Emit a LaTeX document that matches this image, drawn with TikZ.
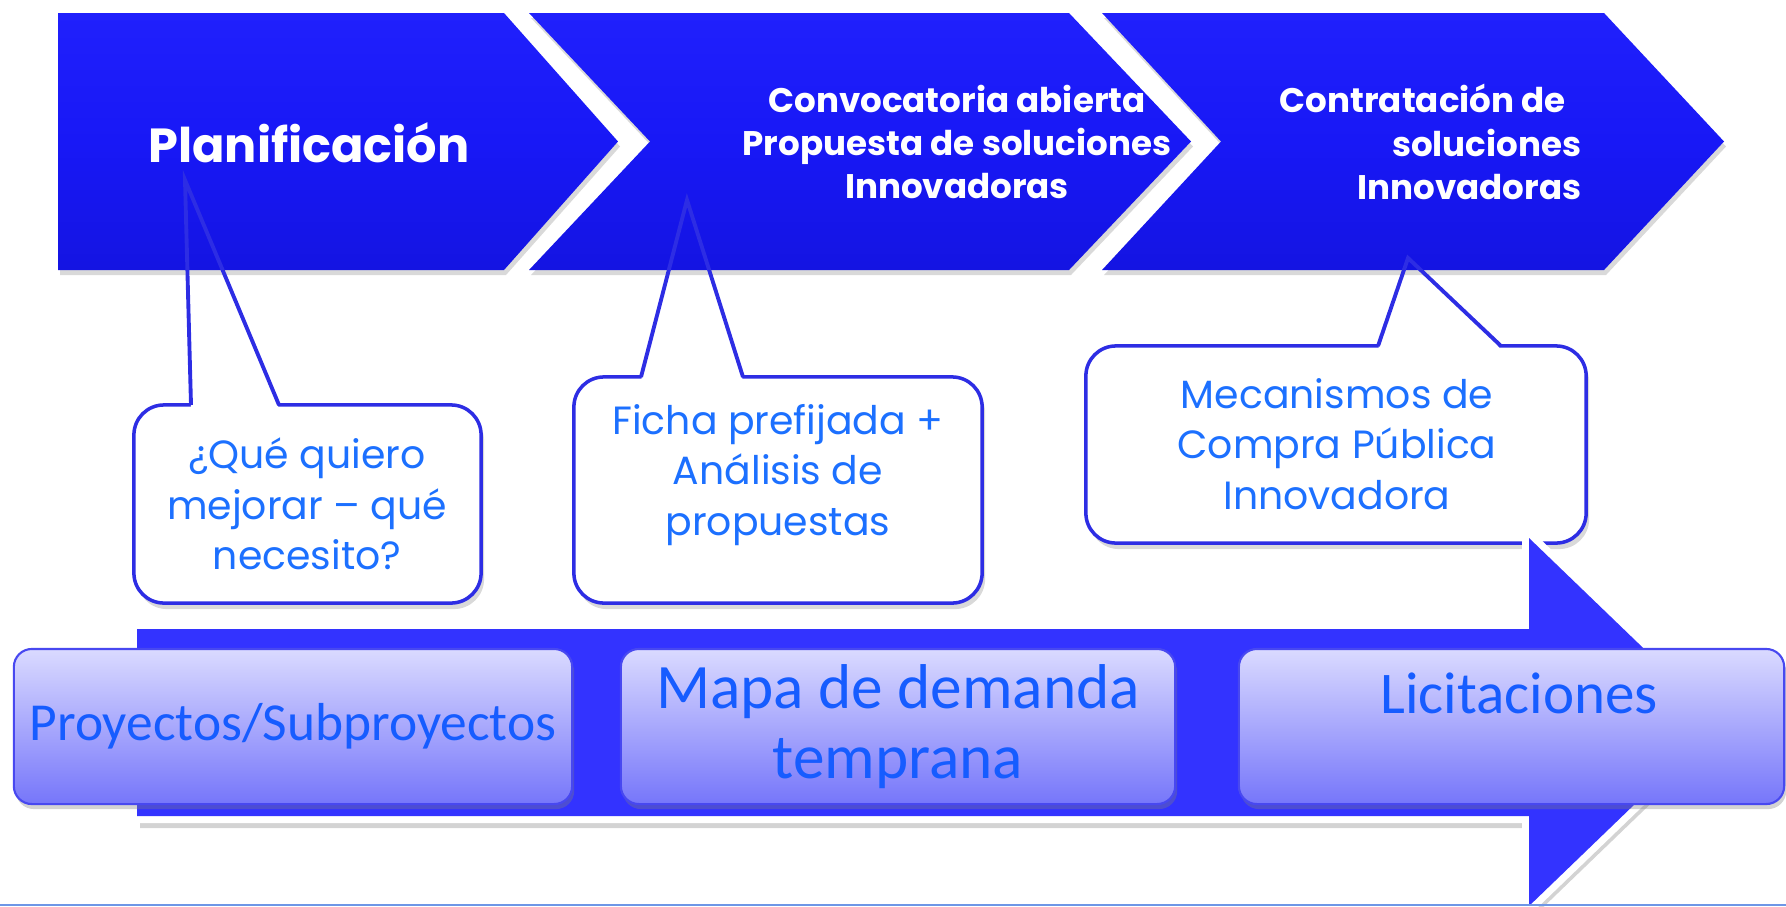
\documentclass[tikz,border=0pt]{standalone}
\usepackage{fontspec}
\setmainfont{Carlito}
\newfontfamily\comicfont{Poppins}
\usetikzlibrary{shadows,calc}

\definecolor{chevblue}{RGB}{24,24,246}
\definecolor{chevtop}{RGB}{32,32,252}
\definecolor{chevbot}{RGB}{20,20,226}
\definecolor{bubline}{RGB}{45,45,228}
\definecolor{bubtext}{RGB}{28,112,255}
\definecolor{flowblue}{RGB}{51,51,255}
\definecolor{boxtop}{RGB}{218,218,255}
\definecolor{boxbot}{RGB}{118,118,250}
\definecolor{boxline}{RGB}{72,72,240}
\definecolor{boxtext}{RGB}{22,92,255}
\definecolor{footline}{RGB}{110,150,230}

\begin{document}
\begin{tikzpicture}
[ x=0.01cm, y=-0.01cm
, chevron/.style={top color=chevtop, bottom color=chevbot, middle color=chevblue,
    drop shadow={opacity=0.3, shadow xshift=0.02cm, shadow yshift=-0.05cm}}
, stage/.style={text=white, font=\comicfont\bfseries\fontsize{9.7}{12.3}\selectfont, align=center, inner sep=0pt}
, flow/.style={drop shadow={opacity=0.35, shadow xshift=0.03cm, shadow yshift=-0.12cm},
    preaction={draw=white, line width=4pt, line join=miter}, fill=flowblue}
, bubble/.style={draw=bubline, line width=1pt, fill=white, rounded corners=0.3cm,
    drop shadow={opacity=0.3, shadow xshift=0.03cm, shadow yshift=-0.06cm}}
, tail/.style={draw=bubline, line width=1.1pt, line join=miter}
, bubtext/.style={text=bubtext, font=\comicfont\fontsize{11.2}{14.3}\selectfont, align=center, inner sep=0pt}
, phase/.style={draw=boxline, line width=0.6pt, rounded corners=0.18cm, top color=boxtop, bottom color=boxbot,
    minimum height=1.55cm, text=boxtext, align=center,
    drop shadow={opacity=0.35, shadow xshift=0.02cm, shadow yshift=-0.05cm}}
]
\useasboundingbox (0,0) rectangle (1786,906);

% Top row: the three stages
\path[chevron] (58,13) -- (504,13) -- (618,141.5) -- (504,270) -- (58,270) -- cycle;
\path[chevron] (529,13) -- (1069,13) -- (1191,141.5) -- (1069,270) -- (529,270) -- (650,141.5) -- cycle;
\path[chevron] (1102,13) -- (1604,13) -- (1724,141.5) -- (1604,270) -- (1102,270) -- (1221,141.5) -- cycle;
\node[stage, font=\comicfont\bfseries\fontsize{13.6}{16}\selectfont, anchor=base] (plan) at (309,162) {Planificación};
\node[stage] (conv) at (957,142) {Convocatoria abierta\\Propuesta de soluciones\\Innovadoras};
\node[stage, align=right, anchor=east] (contr) at (1582,142) {Contratación de\kern0.45em\\soluciones\\Innovadoras};

% Callouts
\coordinate (t1) at (185,180);
\coordinate (t2) at (687,200);
\coordinate (t3) at (1408,258);
\node[bubble, minimum width=3.47cm, minimum height=1.98cm] (q1) at (307.5,504) {};
\node[bubble, minimum width=4.08cm, minimum height=2.26cm] (q2) at (778,490) {};
\node[bubble, minimum width=5.00cm, minimum height=1.97cm] (q3) at (1336,444.5) {};
\coordinate (q1l) at (191,405); \coordinate (q1r) at (279,405);
\coordinate (q2l) at (641,377); \coordinate (q2r) at (743,377);
\coordinate (q3l) at (1378,346); \coordinate (q3r) at (1501,346);
\foreach \q/\t in {q1/t1, q2/t2, q3/t3} {
  \fill[white] ([yshift=-0.04cm]\q l) -- ($(\q l)!0.1!(\t)$) -- ($(\q r)!0.1!(\t)$) -- ([yshift=-0.04cm]\q r) -- cycle;
  \draw[tail] (\q l) -- (\t) -- (\q r);
}
\node[bubtext] (need) at (307,504) {¿Qué quiero\\mejorar – qué\\necesito?};
\node[bubtext] (ficha) at (778,475) {Ficha prefijada +\\Análisis de\\propuestas};
\node[bubtext] (cpi) at (1337,444) {Mecanismos de\\Compra Pública\\Innovadora};

% Bottom arrow
\path[flow] (137,629) -- (1529,629) -- (1529,538) -- (1720,722) -- (1529,906) -- (1529,816) -- (137,816) -- cycle;

% Bottom row: the three outputs
\node[phase, minimum width=5.58cm, font=\fontsize{15.2}{18}\selectfont] (proy) at (293,726.5) {Proyectos/Subproyectos};
\node[phase, minimum width=5.54cm, font=\fontsize{18}{20}\selectfont] (mapa) at (898,726.5) {Mapa de demanda\\temprana};
\node[phase, minimum width=5.45cm] (lici) at (1511.5,726.5) {};
\node[text=boxtext, font=\fontsize{16.8}{19.6}\selectfont, anchor=base] (licit) at (1519,713) {Licitaciones};

\draw[footline, line width=0.6pt] (0,905) -- (1786,905);
\end{tikzpicture}
\end{document}
